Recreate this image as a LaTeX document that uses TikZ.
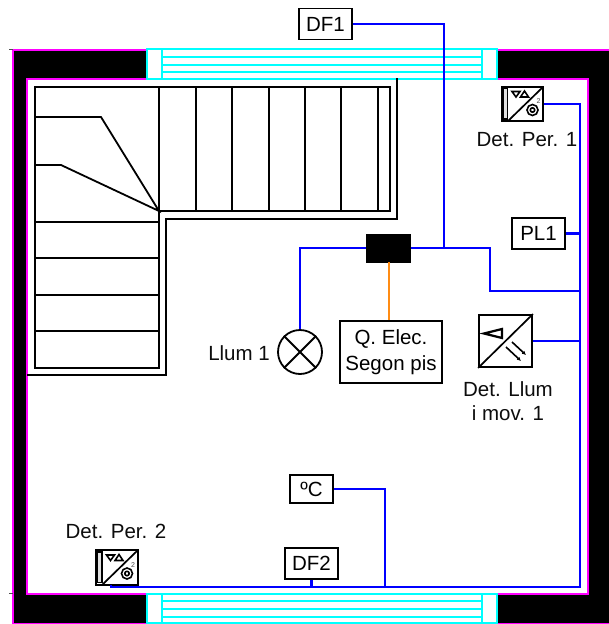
\documentclass[tikz,border=0pt]{standalone}
\usepackage{fontspec}
\setmainfont{Liberation Sans}
\usetikzlibrary{arrows.meta}
\tikzset{
  x=1pt,y=-1pt,
  wall/.style={draw=magenta2,line width=2pt},
  win/.style={draw=cyan2,line width=2pt},
  stair/.style={draw=black,line width=1.8pt,line join=miter},
  wire/.style={draw=blue2,line width=2.2pt,line join=miter},
  feed/.style={draw=orange2,line width=2pt},
  labelbox/.style={draw=black,line width=1.8pt,fill=white,inner sep=0pt,align=center,font=\fontsize{20.5}{26}\selectfont},
  txt/.style={inner sep=0pt,align=center,font=\fontsize{20.5}{24}\selectfont,text=black!95},
  icon/.style={draw=black,line width=1.8pt,fill=white,inner sep=0pt},
  glyph/.style={draw=black,line width=1.2pt},
  detperglyph/.pic={
    \draw[glyph,line width=1.7pt] (-14.5,17) -- (20.5,-17);
    \draw[glyph,line width=1.5pt,fill=black!12] (-19.5,-15.5) rectangle (-15,15);
    \draw[glyph,line width=1.6pt] (-10.5,-12.5) -- (-2.5,-12.5) -- (-6.5,-7) -- cycle;
    \draw[glyph,line width=1.6pt] (-2,-7) -- (6,-7) -- (2,-13) -- cycle;
    \draw[glyph,line width=1.6pt] (10,6) circle (5.5);
    \draw[glyph,line width=1.6pt] (10,6) circle (2.2);
    \node[inner sep=0pt,font=\fontsize{7}{7}\selectfont,text=black!70] at (16,-2.5) {2};
  }
}
\definecolor{magenta2}{RGB}{255,0,255}
\definecolor{cyan2}{RGB}{0,255,255}
\definecolor{blue2}{RGB}{0,0,255}
\definecolor{orange2}{RGB}{255,140,20}
\begin{document}
\begin{tikzpicture}
\useasboundingbox (0,0) rectangle (609,624);
% walls
\fill[black] (13,50) rectangle (609,623);
\fill[white] (27,79) rectangle (588,594);
\draw[wall] (609,49.5) -- (12.5,49.5) -- (12.5,623.5) -- (609,623.5);
\draw[wall] (27,79) rectangle (588,594);
\draw[black!70,line width=.6pt] (9,49.5) -- (13,49.5) (9,593) -- (13,593);
% windows
\foreach \ya/\yb/\la/\lb/\lc in {49/79/57/64.5/72, 594/623/601/609/617}{
  \fill[white] (147,\ya) rectangle (497,\yb);
  \draw[win] (147,\ya) rectangle (497,\yb);
  \draw[win] (162,\ya) -- (162,\yb) (482,\ya) -- (482,\yb);
  \draw[win] (162,\la) -- (482,\la) (162,\lb) -- (482,\lb) (162,\lc) -- (482,\lc);
}
% stairs
\draw[stair] (159,211) -- (390,211) -- (390,87) -- (35,87) -- (35,368) -- (159,368) -- (159,87);
\draw[stair] (397,78) -- (397,219) -- (166,219) -- (166,375) -- (27,375);
\foreach \sx in {196,232,269,305,341,378} \draw[stair] (\sx,87) -- (\sx,211);
\foreach \sy in {222,258,295,331} \draw[stair] (35,\sy) -- (159,\sy);
\draw[stair] (35,117) -- (101,117) -- (159,211) -- (61,165) -- (35,165);
% nodes
\node[labelbox,minimum width=53pt,minimum height=31pt] (df1) at (325.5,24) {DF1};
\node[labelbox,minimum width=53pt,minimum height=31pt] (pl1) at (538.5,233.5) {PL1};
\node[labelbox,minimum width=43pt,minimum height=28pt] (tc) at (311.5,489) {ºC};
\node[labelbox,minimum width=53pt,minimum height=31pt] (df2) at (311.5,563.5) {DF2};
\node[labelbox,minimum width=102pt,minimum height=62pt] (qe) at (391,352) {Q. Elec.\\Segon pis};
\node[draw=black,fill=black,line width=.5pt,inner sep=0pt,minimum width=44pt,minimum height=28pt] (jb) at (388.5,248) {};
\node[draw=black,fill=white,circle,line width=1.8pt,inner sep=0pt,minimum size=44pt] (lamp) at (300,352) {};
\draw[stair] (lamp.45) -- (lamp.225) (lamp.135) -- (lamp.315);
\node[icon,minimum width=41pt,minimum height=34pt] (dp1) at (522.5,104) {};
\pic at (dp1.center) {detperglyph};
\node[icon,minimum width=42pt,minimum height=35pt] (dp2) at (117,567.5) {};
\pic at (dp2.center) {detperglyph};
\node[icon,minimum width=53pt,minimum height=52pt] (ld) at (505.5,341) {};
\draw[glyph,line width=1.7pt] (ld.south west) -- (ld.north east);
\draw[glyph,line width=2.2pt,line join=miter] (502,329) -- (484,333.5) -- (502,338) -- cycle;
\draw[glyph,line width=1.6pt,-{Latex[length=4pt,width=4pt]}] (512,342) -- (526,355);
\draw[glyph,line width=1.6pt,-{Latex[length=4pt,width=4pt]}] (506,347) -- (521,361);
% free points of the wiring
\coordinate (br) at (580,587);
\coordinate (jt) at (444,248);
\coordinate (c1) at (490,248);
\coordinate (c2) at (490,291);
\coordinate (c3) at (580,291);
\coordinate (tb) at (385,587);
\coordinate (dp2s) at (111,585);
% wiring
\draw[wire] (dp1.east) -| (br) -| (dp2s);
\draw[wire] (df1.east) -| (jt);
\draw[wire] (jb.west) -| (lamp.north);
\draw[wire] (jb.east) -- (c1) -- (c2) -- (c3);
\draw[wire] (pl1.east) -- (pl1.east -| br);
\draw[wire] (ld.east) -- (ld.east -| br);
\draw[wire] (tc.east) -| (tb);
\draw[wire] (df2.south) -- (df2.south |- br);
\draw[feed] (jb.south) -- (jb.south |- qe.north);
% labels
\node[txt] (t1) at (527,140) {Det. Per. 1};
\node[txt] (t2) at (116,531) {Det. Per. 2};
\node[txt] (t3) at (508,401) {Det. Llum\\i mov. 1};
\node[txt,anchor=east] (t4) at (270,353) {Llum 1};
\end{tikzpicture}
\end{document}
